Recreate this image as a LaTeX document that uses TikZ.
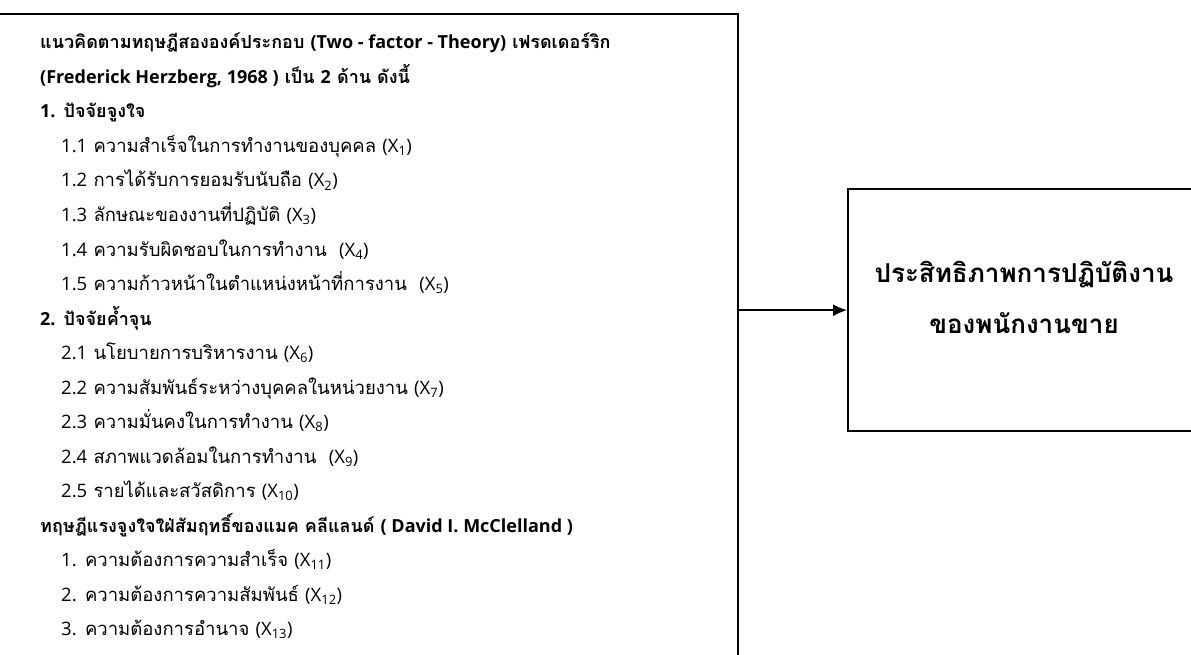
\documentclass[tikz,border=0pt]{standalone}
\usepackage{fontspec}
\setmainfont[Script=Thai]{Loma}
\newfontfamily\latfont{Open Sans}
\newcommand{\ltn}[1]{{\latfont #1}}
\newcommand{\xv}[1]{\ltn{(X\textsubscript{#1})}}
\usetikzlibrary{arrows.meta, positioning}

\begin{document}
\begin{tikzpicture}[x=1pt, y=-1pt, node distance = 34.5pt]
        \tikzstyle{frame} = [draw = black, line width = 1.6pt, inner sep = 0pt]
        \tikzstyle{head} = [inner sep = 0pt, font = \bfseries\fontsize{18}{21}\selectfont]
        \tikzstyle{item} = [inner sep = 0pt, font = \fontsize{18.5}{21}\selectfont]
        \tikzstyle{result} = [inner sep = 0pt, anchor = base, font = \bfseries\fontsize{26}{30}\selectfont]
        \tikzstyle{connect} = [-{Latex[length = 14pt, width = 12pt]}, line width = 1.6pt]
        \useasboundingbox (0,0) rectangle (1191,655);
        % boxes
        \node[frame, minimum width = 779pt, minimum height = 700pt, anchor = north east] (theory) at (739,13) {};
        \node[frame, minimum width = 350pt, minimum height = 242pt, anchor = south west] (perf) at (847,432) {};
        \node[result] (perfa) at (1024,282) {ประสิทธิภาพการปฏิบัติงาน};
        \node[result, below = 51pt of perfa.base, anchor = base] (perfb) {ของพนักงานขาย};
        % theory text
        \node[head, anchor = base west] (title) at (40,49) {แนวคิดตามทฤษฎีสององค์ประกอบ \ltn{(Two - factor - Theory)} เฟรดเดอร์ริก};
        \node[head, below = of title.base west, anchor = base west] (titleb) {\ltn{(Frederick Herzberg, 1968 )} เป็น \ltn{2} ด้าน ดังนี้};
        \node[head, below = of titleb.base west, anchor = base west] (mot) {\ltn{1.} ปัจจัยจูงใจ};
        \node[item, below = of mot.base west, anchor = base west, xshift = 21pt] (mot1) {\ltn{1.1} ความสำเร็จในการทำงานของบุคคล \xv{1}};
        \node[item, below = of mot1.base west, anchor = base west] (mot2) {\ltn{1.2} การได้รับการยอมรับนับถือ \xv{2}};
        \node[item, below = of mot2.base west, anchor = base west] (mot3) {\ltn{1.3} ลักษณะของงานที่ปฏิบัติ \xv{3}};
        \node[item, below = of mot3.base west, anchor = base west] (mot4) {\ltn{1.4} ความรับผิดชอบในการทำงาน\ \ \xv{4}};
        \node[item, below = of mot4.base west, anchor = base west] (mot5) {\ltn{1.5} ความก้าวหน้าในตำแหน่งหน้าที่การงาน\ \ \xv{5}};
        \node[head, below = of mot5.base west, anchor = base west, xshift = -21pt] (hyg) {\ltn{2.} ปัจจัยค้ำจุน};
        \node[item, below = of hyg.base west, anchor = base west, xshift = 21pt] (hyg1) {\ltn{2.1} นโยบายการบริหารงาน \xv{6}};
        \node[item, below = of hyg1.base west, anchor = base west] (hyg2) {\ltn{2.2} ความสัมพันธ์ระหว่างบุคคลในหน่วยงาน \xv{7}};
        \node[item, below = of hyg2.base west, anchor = base west] (hyg3) {\ltn{2.3} ความมั่นคงในการทำงาน \xv{8}};
        \node[item, below = of hyg3.base west, anchor = base west] (hyg4) {\ltn{2.4} สภาพแวดล้อมในการทำงาน\ \ \xv{9}};
        \node[item, below = of hyg4.base west, anchor = base west] (hyg5) {\ltn{2.5} รายได้และสวัสดิการ \xv{10}};
        \node[head, below = of hyg5.base west, anchor = base west, xshift = -21pt] (mcc) {ทฤษฎีแรงจูงใจใฝ่สัมฤทธิ์ของแมค คลีแลนด์ \ltn{( David I. McClelland )}};
        \node[item, below = of mcc.base west, anchor = base west, xshift = 21pt] (mcc1) {\ltn{1.} ความต้องการความสำเร็จ \xv{11}};
        \node[item, below = of mcc1.base west, anchor = base west] (mcc2) {\ltn{2.} ความต้องการความสัมพันธ์ \xv{12}};
        \node[item, below = of mcc2.base west, anchor = base west] (mcc3) {\ltn{3.} ความต้องการอำนาจ \xv{13}};
        % arrow
        \draw[connect] (theory.east |- perf.west) -- (perf.west);
      \end{tikzpicture}
\end{document}
